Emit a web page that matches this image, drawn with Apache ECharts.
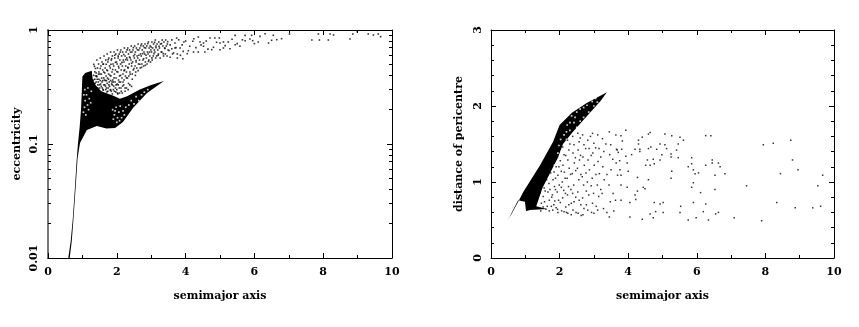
<!DOCTYPE html>
<html>
<head>
<meta charset="utf-8">
<style>html,body{margin:0;background:#fff}#chart{width:859px;height:327px}</style>
<script src="https://cdn.jsdelivr.net/npm/echarts@6/dist/echarts.min.js"></script>
</head>
<body>
<div id="chart"></div>
<script>
// semimajor axis, eccentricity: outline of the solid black part
const eccSolid = [[0.59,0.01],[0.66,0.014],[0.72,0.022],[0.78,0.04],[0.83,0.07],[0.87,0.1],[0.92,0.14],[0.96,0.2],[1.0,0.39],[1.08,0.42],[1.27,0.44],[1.3,0.37],[1.38,0.33],[1.55,0.29],[1.9,0.265],[2.09,0.25],[2.3,0.262],[2.67,0.3],[3.0,0.33],[3.37,0.357],[2.88,0.28],[2.47,0.207],[2.18,0.156],[1.95,0.138],[1.7,0.137],[1.42,0.144],[1.13,0.133],[0.93,0.102],[0.86,0.075],[0.8,0.04],[0.74,0.022],[0.69,0.014],[0.63,0.01]]
// white specks inside the solid part
const eccGaps = [[1.04,0.27],[1.08,0.24],[1.12,0.27],[1.06,0.21],[1.15,0.22],[1.2,0.25],[1.03,0.19],[1.1,0.18],[1.18,0.2],[1.24,0.23],[1.07,0.3],[1.16,0.31],[1.26,0.29],[1.88,0.2],[1.93,0.18],[1.98,0.21],[2.02,0.17],[2.06,0.19],[2.1,0.215],[2.14,0.17],[2.18,0.195],[1.9,0.165],[2.0,0.155],[2.08,0.16],[2.22,0.18],[2.26,0.21],[1.95,0.195],[2.35,0.22],[2.42,0.24],[2.5,0.225],[2.56,0.26],[2.64,0.24],[2.72,0.27],[2.8,0.285],[2.9,0.3]]
const eccDots = [
  [1.33,0.5],[1.38,0.46],[1.36,0.43],[1.39,0.395],[1.32,0.364],
  [1.42,0.545],[1.47,0.503],[1.44,0.464],[1.48,0.428],[1.41,0.395],[1.46,0.35],
  [1.52,0.568],[1.57,0.524],[1.54,0.483],[1.59,0.446],[1.51,0.411],[1.56,0.379],[1.53,0.336],[1.58,0.31],
  [1.63,0.592],[1.68,0.545],[1.61,0.503],[1.66,0.464],[1.62,0.428],[1.69,0.395],[1.64,0.364],[1.67,0.322],[1.61,0.297],
  [1.72,0.616],[1.77,0.568],[1.74,0.524],[1.79,0.483],[1.71,0.446],[1.76,0.411],[1.73,0.379],[1.78,0.35],[1.75,0.31],[1.71,0.286],
  [1.82,0.641],[1.87,0.592],[1.84,0.545],[1.89,0.503],[1.81,0.464],[1.86,0.428],[1.83,0.395],[1.88,0.364],[1.85,0.336],[1.81,0.297],[1.87,0.275],
  [1.92,0.641],[1.97,0.616],[1.94,0.568],[1.99,0.524],[1.91,0.483],[1.96,0.446],[1.93,0.411],[1.98,0.379],[1.95,0.35],[1.91,0.322],[1.97,0.286],
  [2.02,0.668],[2.07,0.616],[2.04,0.568],[2.09,0.545],[2.01,0.503],[2.06,0.464],[2.03,0.428],[2.08,0.395],[2.05,0.364],[2.01,0.336],[2.07,0.31],[2.03,0.275],
  [2.12,0.668],[2.17,0.641],[2.14,0.592],[2.19,0.545],[2.11,0.503],[2.16,0.483],[2.13,0.446],[2.18,0.411],[2.15,0.379],[2.11,0.35],[2.17,0.322],
  [2.22,0.695],[2.27,0.641],[2.24,0.592],[2.29,0.568],[2.21,0.524],[2.26,0.483],[2.23,0.446],[2.28,0.428],[2.25,0.395],[2.21,0.364],
  [2.32,0.695],[2.37,0.668],[2.34,0.616],[2.39,0.568],[2.31,0.545],[2.36,0.503],[2.33,0.464],[2.38,0.428],[2.35,0.395],[2.31,0.379],
  [2.42,0.724],[2.47,0.668],[2.44,0.641],[2.49,0.592],[2.41,0.545],[2.46,0.524],[2.43,0.483],[2.48,0.446],[2.45,0.411],
  [2.52,0.724],[2.57,0.695],[2.54,0.641],[2.59,0.592],[2.51,0.568],[2.56,0.524],[2.53,0.483],[2.58,0.464],[2.55,0.428],
  [2.62,0.754],[2.67,0.695],[2.64,0.668],[2.69,0.616],[2.61,0.568],[2.66,0.545],[2.63,0.503],[2.68,0.464],
  [2.72,0.754],[2.77,0.724],[2.74,0.668],[2.79,0.641],[2.71,0.592],[2.76,0.545],[2.73,0.503],[2.78,0.483],
  [2.82,0.754],[2.87,0.724],[2.84,0.695],[2.89,0.641],[2.81,0.616],[2.86,0.568],[2.83,0.524],[2.88,0.503],
  [2.92,0.785],[2.97,0.724],[2.94,0.695],[2.99,0.668],[2.91,0.616],[2.96,0.592],[2.93,0.545],[2.98,0.524],
  [3.02,0.785],[3.07,0.754],[3.04,0.695],[3.09,0.668],[3.01,0.641],[3.06,0.592],[3.03,0.545],
  [3.12,0.817],[3.17,0.754],[3.14,0.724],[3.19,0.668],[3.11,0.641],[3.16,0.592],[3.13,0.568],
  [3.22,0.785],[3.27,0.754],[3.24,0.695],[3.29,0.641],[3.21,0.616],[3.26,0.568],
  [3.32,0.817],[3.37,0.785],[3.34,0.724],[3.39,0.695],[3.31,0.641],[3.36,0.592],
  [3.42,0.817],[3.47,0.754],[3.44,0.724],[3.49,0.668],[3.41,0.616],[3.46,0.592],
  [3.74,0.851],[3.69,0.769],[3.95,0.785],[4.24,0.839],[4.21,0.796],[4.37,0.868],[4.42,0.785],[4.52,0.769],[4.71,0.851],[4.85,0.851],[4.98,0.851],[5.0,0.769],[5.1,0.785],[5.24,0.785],[5.44,0.898],[5.73,0.898],[5.92,0.898],[5.87,0.834],[5.73,0.806],[5.95,0.806],[6.11,0.785],[6.16,0.88],[6.31,0.928],[6.41,0.769],[6.55,0.898],[6.5,0.812],[6.65,0.822],[6.79,0.839],
  [5.44,0.743],[5.58,0.72],[5.29,0.685],[5.1,0.695],[5.0,0.672],[4.81,0.705],[4.76,0.672],[4.52,0.72],[4.56,0.641],[4.37,0.641],[4.23,0.641],[4.08,0.658],[3.93,0.65],[3.84,0.695],[3.69,0.695],[3.6,0.685],[3.62,0.616],[3.76,0.616],[3.76,0.568],[3.92,0.56],[3.55,0.576],
  [7.02,0.922],[7.67,0.817],[7.86,0.922],[7.89,0.817],[8.15,0.817],[8.2,0.922],[8.3,0.904],[8.78,0.834],[8.86,0.922],[8.99,0.966],[9.31,0.922],[9.46,0.904],[9.6,0.922],[9.67,0.874],
  [1.35,0.48],[1.4,0.42],[1.43,0.37],[1.37,0.34],[1.47,0.41],[1.5,0.33],[1.44,0.31],[1.52,0.46],[1.55,0.41],[1.59,0.36],[1.6,0.5],[1.62,0.33],[1.65,0.42],[1.68,0.3],[1.69,0.5],[1.7,0.36],[1.73,0.44],[1.75,0.55],[1.77,0.33],[1.8,0.4],[1.82,0.3],[1.83,0.5],[1.85,0.56],[1.86,0.35],[1.88,0.45],[1.9,0.3],[1.92,0.38],[1.94,0.6],[1.96,0.52],[1.98,0.33],[2.0,0.43],[2.02,0.28],[2.04,0.59],[2.05,0.48],[2.07,0.35],[2.1,0.64],[2.11,0.4],[2.13,0.29],[2.15,0.52],[2.18,0.35],[2.2,0.61],[2.21,0.44],[2.24,0.31],[2.26,0.55],[2.28,0.38],[2.3,0.67],[2.32,0.47],[2.34,0.34],[2.37,0.58],[2.39,0.41],[2.4,0.64],[2.43,0.51],[2.45,0.37],[2.48,0.7],[2.5,0.46],[2.52,0.61],[2.54,0.4],[2.56,0.54],[2.6,0.67],[2.62,0.44],[2.64,0.6],[2.67,0.5],[2.7,0.73],[2.72,0.47],[2.75,0.62],[2.78,0.56],[2.8,0.7],[2.83,0.49],[2.85,0.6],[2.9,0.76],[2.92,0.53],[2.95,0.64],[3.0,0.71],[3.02,0.57],[3.08,0.62],[3.1,0.78],[3.14,0.7],[3.2,0.6],[3.23,0.72],[3.3,0.76],[3.35,0.62],[3.4,0.69],[3.48,0.79],[3.52,0.66],[3.55,0.74],[3.6,0.82],[3.65,0.63],[3.72,0.7],[3.8,0.82],[3.85,0.6],[3.9,0.74],[4.0,0.8],[4.05,0.62],[4.12,0.72],[4.3,0.7],[4.45,0.74],[4.6,0.8],[4.65,0.68],[4.9,0.78],[5.15,0.73],[5.35,0.83],[5.5,0.76],[5.65,0.82],[6.0,0.76],
  [1.33,0.4],[1.36,0.37],[1.4,0.35],[1.42,0.39],[1.45,0.33],[1.48,0.37],[1.5,0.31],[1.52,0.36],[1.55,0.32],[1.57,0.35],[1.6,0.3],[1.62,0.38],[1.65,0.33],[1.67,0.36],[1.7,0.31],[1.72,0.34],[1.74,0.29],[1.76,0.37],[1.79,0.32],[1.82,0.36],[1.84,0.29],[1.87,0.33],[1.9,0.35],[1.93,0.29],[1.96,0.31],[2.0,0.3],[2.04,0.33],[2.08,0.28],[2.12,0.31],[2.16,0.28],[2.2,0.33],[2.24,0.29],[2.28,0.31],[2.33,0.3],[2.38,0.33],[2.43,0.32]
]
// semimajor axis, distance of pericentre
const periSolid = [[0.47,0.49],[0.6,0.58],[0.85,0.79],[0.94,0.87],[1.43,1.22],[1.81,1.53],[2.0,1.75],[2.36,1.91],[2.79,2.04],[3.38,2.18],[3.2,2.07],[2.8,1.87],[2.39,1.66],[2.1,1.5],[1.95,1.32],[1.7,1.1],[1.5,0.92],[1.32,0.68],[1.63,0.645],[1.14,0.63],[1.02,0.62],[0.99,0.74],[0.79,0.76],[0.55,0.55]]
const periGaps = [[2.35,1.87],[2.45,1.85],[2.5,1.92],[2.6,1.96],[2.7,1.98],[2.8,2.01],[2.22,1.75],[2.3,1.78],[2.42,1.78],[2.13,1.62],[2.2,1.66],[1.98,1.48],[2.03,1.56],[2.95,2.06],[3.05,2.1],[2.3,1.68],[2.5,1.72],[2.6,1.8],[2.7,1.85],[2.85,1.92],[3.0,2.0],[3.1,2.05],[2.2,1.56],[2.05,1.4],[1.95,1.38],[1.85,1.22],[1.7,1.05]]
const periDots = [
  [1.5,1.0],[1.55,0.92],[1.52,0.81],[1.56,0.74],
  [1.65,1.09],[1.69,0.98],[1.66,0.87],[1.7,0.76],[1.64,0.68],
  [1.8,1.25],[1.84,1.13],[1.81,1.03],[1.85,0.94],[1.79,0.83],[1.83,0.7],[1.8,0.63],
  [1.94,1.33],[1.98,1.2],[1.95,1.09],[1.99,0.96],[1.93,0.87],[1.97,0.76],[1.94,0.64],
  [2.09,1.46],[2.13,1.36],[2.1,1.22],[2.14,1.13],[2.08,1.0],[2.12,0.89],[2.09,0.79],[2.13,0.61],
  [2.23,1.55],[2.27,1.42],[2.24,1.29],[2.28,1.18],[2.22,1.05],[2.26,0.94],[2.23,0.83],[2.27,0.7],[2.24,0.59],
  [2.38,1.6],[2.42,1.49],[2.39,1.38],[2.43,1.25],[2.37,1.11],[2.41,0.96],[2.38,0.85],[2.42,0.74],[2.39,0.63],
  [2.53,1.64],[2.57,1.53],[2.54,1.42],[2.58,1.29],[2.52,1.18],[2.56,1.03],[2.53,0.87],[2.57,0.76],[2.54,0.59],
  [2.67,1.62],[2.71,1.49],[2.68,1.33],[2.72,1.22],[2.66,1.07],[2.7,0.96],[2.67,0.79],[2.71,0.65],[2.68,0.57],
  [2.82,1.55],[2.86,1.44],[2.83,1.29],[2.87,1.16],[2.81,1.0],[2.85,0.83],[2.82,0.63],
  [2.96,1.64],[3.0,1.51],[2.97,1.38],[3.01,1.22],[2.95,1.05],[2.99,0.85],[2.96,0.72],[3.0,0.59],
  [3.11,1.62],[3.15,1.44],[3.12,1.27],[3.16,1.11],[3.1,0.96],[3.14,0.81],[3.11,0.63],
  [3.25,1.57],[3.29,1.4],[3.26,1.2],[3.3,1.03],[3.24,0.85],[3.28,0.65],
  [3.45,1.66],[3.49,1.49],[3.46,1.36],[3.5,1.16],[3.44,0.96],[3.48,0.74],[3.45,0.54],
  [3.64,1.62],[3.68,1.42],[3.65,1.25],[3.69,1.09],[3.63,0.76],
  [3.93,1.68],[3.79,1.61],[3.83,1.54],[4.3,1.55],[4.41,1.59],[4.59,1.63],[4.64,1.65],[5.07,1.63],[5.27,1.61],[5.51,1.59],[5.61,1.55],[6.26,1.61],[6.41,1.61],
  [4.3,1.5],[4.93,1.5],[4.66,1.46],[4.59,1.44],[5.07,1.49],[5.12,1.44],[5.46,1.5],[5.41,1.42],[4.2,1.43],[4.34,1.43],[4.83,1.43],[4.34,1.4],[3.66,1.43],[3.81,1.43],[3.71,1.39],[4.1,1.36],[3.93,1.34],[4.98,1.36],[5.25,1.37],[5.25,1.33],[5.46,1.32],[5.85,1.32],[6.45,1.29],[6.45,1.25],[6.63,1.25],[6.26,1.22],[6.68,1.2],[5.85,1.24],[5.75,1.2],
  [4.56,1.29],[4.73,1.3],[4.93,1.29],[3.97,1.25],[4.51,1.22],[4.64,1.22],[4.76,1.24],[3.76,1.16],[5.9,1.16],[4.0,1.14],[5.27,1.14],[6.05,1.12],[5.95,1.11],[6.82,1.11],[6.53,1.09],[3.79,1.09],[4.27,1.06],[5.25,1.05],[4.59,1.03],[5.9,0.99],[3.79,0.96],[3.97,0.93],[4.44,0.93],[4.49,0.91],[5.85,0.93],[6.53,0.9],[4.27,0.88],[4.2,0.83],[6.11,0.86],[4.22,0.77],[3.79,0.76],[4.05,0.73],[4.76,0.73],[4.93,0.71],[5.02,0.73],[5.9,0.73],[6.26,0.71],[5.53,0.68],[4.8,0.61],[6.19,0.61],[5.02,0.6],[5.51,0.6],[6.63,0.6],[6.55,0.58],[4.64,0.58],[4.05,0.54],[4.73,0.53],[4.41,0.51],[5.98,0.53],[5.75,0.5],[6.34,0.5],[7.09,0.53],
  [7.94,1.49],[8.23,1.51],[8.74,1.55],[8.79,1.29],[8.95,1.16],[8.44,1.11],[9.67,1.09],[9.53,0.95],[7.45,0.95],[8.33,0.73],[8.87,0.66],[9.38,0.66],[9.61,0.68],[7.89,0.49],
  [1.42,0.85],[1.47,0.72],[1.45,0.62],[1.52,0.67],[1.58,0.88],[1.6,0.64],[1.62,1.03],[1.7,0.62],[1.72,0.9],[1.74,1.12],[1.76,0.68],[1.77,0.8],[1.86,0.75],[1.88,1.05],[1.9,1.2],[1.88,0.9],[1.9,0.66],[1.95,0.6],[2.02,1.28],[2.02,0.73],[2.05,1.14],[2.05,0.93],[2.06,0.62],[2.16,1.05],[2.17,0.85],[2.18,1.35],[2.18,0.67],[2.2,0.6],[2.3,1.5],[2.32,1.1],[2.33,0.9],[2.34,0.72],[2.34,0.57],[2.46,1.32],[2.47,1.15],[2.47,0.8],[2.48,0.6],[2.6,1.58],[2.61,1.35],[2.62,1.1],[2.62,0.7],[2.63,0.56],[2.76,1.44],[2.77,1.12],[2.78,0.88],[2.78,0.7],[2.9,1.6],[2.92,1.35],[2.92,0.95],[2.93,0.6],[3.05,1.45],[3.06,1.1],[3.07,0.68],[3.2,1.33],[3.2,0.9],[3.35,1.5],[3.38,1.1],[3.38,0.6],[3.55,1.3],[3.56,0.85],[3.58,0.62],[3.75,1.28]
]
const eccTicksMajor = [0.01, 0.1, 1]
const eccTicksMinor = [0.02,0.03,0.04,0.05,0.06,0.07,0.08,0.09,0.2,0.3,0.4,0.5,0.6,0.7,0.8,0.9]

const labelFont = { fontFamily: 'DejaVu Serif', fontWeight: 'bold', fontSize: 11, color: '#000' }
const black = { lineStyle: { color: '#000', width: 1 } }
const line = { show: true, onZero: false, ...black }

const xAxisPair = (gridIndex) => {
  const common = { type: 'value', gridIndex, min: 0, max: 10, interval: 2, splitLine: { show: false } }
  const ticks = {
    axisLine: line,
    axisTick: { show: true, inside: true, length: 5, ...black },
    minorTick: { show: true, splitNumber: 2, length: 3, ...black },
  }
  return [
    {
      ...common, ...ticks, position: 'bottom', name: 'semimajor axis', nameLocation: 'middle', nameGap: 33,
      nameTextStyle: labelFont,
      axisLabel: { ...labelFont, margin: 9, showMinLabel: true, showMaxLabel: true },
    },
    { ...common, ...ticks, position: 'top', axisLabel: { show: false } },
  ]
}

const eccAxes = [
  {
    type: 'log', gridIndex: 0, min: 0.01, max: 1, position: 'left', name: 'eccentricity', nameLocation: 'middle', nameGap: 25,
    nameTextStyle: labelFont, splitLine: { show: false },
    axisLine: { show: true, onZero: false, lineStyle: { color: '#777', width: 2 } },
    axisTick: { show: true, inside: true, length: 5, customValues: eccTicksMajor, ...black },
    axisLabel: { ...labelFont, rotate: 90, margin: 8, customValues: eccTicksMajor, formatter: (v) => String(v) },
  },
  {
    type: 'log', gridIndex: 0, min: 0.01, max: 1, position: 'left', splitLine: { show: false },
    axisLine: { show: false, onZero: false }, axisLabel: { show: false },
    axisTick: { show: true, inside: true, length: 3, customValues: eccTicksMinor, ...black },
  },
  {
    type: 'log', gridIndex: 0, min: 0.01, max: 1, position: 'right', splitLine: { show: false },
    axisLine: line, axisLabel: { show: false },
    axisTick: { show: true, inside: true, length: 5, customValues: eccTicksMajor, ...black },
  },
  {
    type: 'log', gridIndex: 0, min: 0.01, max: 1, position: 'right', splitLine: { show: false },
    axisLine: { show: false, onZero: false }, axisLabel: { show: false },
    axisTick: { show: true, inside: true, length: 3, customValues: eccTicksMinor, ...black },
  },
]

const periAxes = [
  {
    type: 'value', gridIndex: 1, min: 0, max: 3, interval: 1, position: 'left', name: 'distance of pericentre', nameLocation: 'middle', nameGap: 26,
    nameTextStyle: labelFont, splitLine: { show: false },
    axisLine: line,
    axisTick: { show: true, inside: true, length: 5, ...black },
    minorTick: { show: true, splitNumber: 5, length: 3, ...black },
    axisLabel: { ...labelFont, rotate: 90, margin: 7 },
  },
  {
    type: 'value', gridIndex: 1, min: 0, max: 3, interval: 1, position: 'right', splitLine: { show: false },
    axisLine: line, axisLabel: { show: false },
    axisTick: { show: true, inside: true, length: 5, ...black },
    minorTick: { show: true, splitNumber: 5, length: 3, ...black },
  },
]

const solidSeries = (outline, xAxisIndex, yAxisIndex) => ({
  type: 'custom', xAxisIndex, yAxisIndex, silent: true, data: [[outline[0][0], outline[0][1]]],
  renderItem: (params, api) => ({
    type: 'polygon',
    shape: { points: outline.map((p) => api.coord(p)) },
    style: { fill: '#000' },
  }),
})

const dotSeries = (data, color, size, xAxisIndex, yAxisIndex) => ({
  type: 'scatter', xAxisIndex, yAxisIndex, data, silent: true, symbol: 'rect', symbolSize: size,
  itemStyle: { color }, animation: false,
})

const myChart = echarts.init(document.getElementById('chart'), null, { renderer: 'canvas' })
myChart.setOption({
  animation: false,
  backgroundColor: '#fff',
  grid: [
    { left: 48, right: 467, top: 30, bottom: 69 },
    { left: 491, right: 25, top: 30, bottom: 69 },
  ],
  xAxis: [...xAxisPair(0), ...xAxisPair(1)],
  yAxis: [...eccAxes, ...periAxes],
  series: [
    solidSeries(eccSolid, 0, 0),
    dotSeries(eccGaps, '#fff', 1.7, 0, 0),
    dotSeries(eccDots, '#000', 1.6, 0, 0),
    solidSeries(periSolid, 2, 4),
    dotSeries(periGaps, '#fff', 1.7, 2, 4),
    dotSeries(periDots, '#000', 1.5, 2, 4),
  ],
})
</script>
</body>
</html>
